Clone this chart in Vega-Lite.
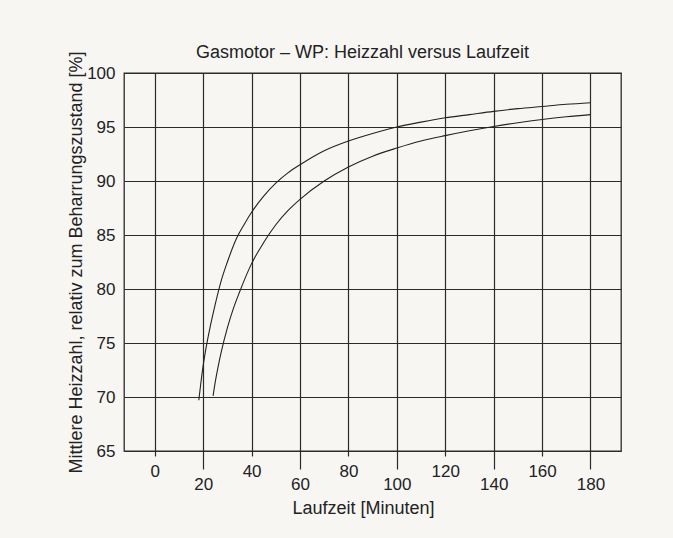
{
  "$schema": "https://vega.github.io/schema/vega-lite/v6.json",
  "autosize": "none",
  "width": 497,
  "height": 378,
  "padding": {"left": 124, "top": 73, "right": 52, "bottom": 87},
  "background": "#f7f6f3",
  "title": {
    "text": "Gasmotor – WP: Heizzahl versus Laufzeit",
    "fontSize": 18,
    "font": "Liberation Sans",
    "fontWeight": "normal",
    "color": "#222222",
    "frame": "group",
    "anchor": "middle",
    "dx": -10,
    "dy": 22,
    "offset": 11
  },
  "config": {
    "view": {"stroke": "#2b2b2b", "strokeWidth": 1.3},
    "font": "Liberation Sans"
  },
  "data": {
    "values": [
      {"kurve": "A", "minuten": 18.2, "heizzahl": 69.7},
      {"kurve": "A", "minuten": 19, "heizzahl": 71.2},
      {"kurve": "A", "minuten": 20, "heizzahl": 72.9},
      {"kurve": "A", "minuten": 21.4, "heizzahl": 74.8},
      {"kurve": "A", "minuten": 23, "heizzahl": 76.6},
      {"kurve": "A", "minuten": 25, "heizzahl": 78.6},
      {"kurve": "A", "minuten": 27.5, "heizzahl": 80.8},
      {"kurve": "A", "minuten": 30, "heizzahl": 82.5},
      {"kurve": "A", "minuten": 33.8, "heizzahl": 84.7},
      {"kurve": "A", "minuten": 37, "heizzahl": 86.0},
      {"kurve": "A", "minuten": 40, "heizzahl": 87.1},
      {"kurve": "A", "minuten": 45, "heizzahl": 88.6},
      {"kurve": "A", "minuten": 50, "heizzahl": 89.8},
      {"kurve": "A", "minuten": 55, "heizzahl": 90.75},
      {"kurve": "A", "minuten": 60, "heizzahl": 91.5},
      {"kurve": "A", "minuten": 70, "heizzahl": 92.8},
      {"kurve": "A", "minuten": 80, "heizzahl": 93.7},
      {"kurve": "A", "minuten": 90, "heizzahl": 94.4},
      {"kurve": "A", "minuten": 100, "heizzahl": 95.0},
      {"kurve": "A", "minuten": 110, "heizzahl": 95.45},
      {"kurve": "A", "minuten": 120, "heizzahl": 95.85},
      {"kurve": "A", "minuten": 130, "heizzahl": 96.15},
      {"kurve": "A", "minuten": 140, "heizzahl": 96.45},
      {"kurve": "A", "minuten": 150, "heizzahl": 96.7},
      {"kurve": "A", "minuten": 160, "heizzahl": 96.9},
      {"kurve": "A", "minuten": 170, "heizzahl": 97.1},
      {"kurve": "A", "minuten": 180, "heizzahl": 97.25},
      {"kurve": "B", "minuten": 24.1, "heizzahl": 70.1},
      {"kurve": "B", "minuten": 25, "heizzahl": 71.4},
      {"kurve": "B", "minuten": 26, "heizzahl": 72.6},
      {"kurve": "B", "minuten": 27.5, "heizzahl": 74.2},
      {"kurve": "B", "minuten": 30, "heizzahl": 76.4},
      {"kurve": "B", "minuten": 32.5, "heizzahl": 78.2},
      {"kurve": "B", "minuten": 35, "heizzahl": 79.7},
      {"kurve": "B", "minuten": 40, "heizzahl": 82.35},
      {"kurve": "B", "minuten": 45, "heizzahl": 84.3},
      {"kurve": "B", "minuten": 50, "heizzahl": 85.95},
      {"kurve": "B", "minuten": 55, "heizzahl": 87.25},
      {"kurve": "B", "minuten": 60, "heizzahl": 88.3},
      {"kurve": "B", "minuten": 70, "heizzahl": 90.0},
      {"kurve": "B", "minuten": 80, "heizzahl": 91.3},
      {"kurve": "B", "minuten": 90, "heizzahl": 92.3},
      {"kurve": "B", "minuten": 100, "heizzahl": 93.05},
      {"kurve": "B", "minuten": 110, "heizzahl": 93.7},
      {"kurve": "B", "minuten": 120, "heizzahl": 94.2},
      {"kurve": "B", "minuten": 130, "heizzahl": 94.65},
      {"kurve": "B", "minuten": 140, "heizzahl": 95.05},
      {"kurve": "B", "minuten": 150, "heizzahl": 95.4},
      {"kurve": "B", "minuten": 160, "heizzahl": 95.7},
      {"kurve": "B", "minuten": 170, "heizzahl": 95.95},
      {"kurve": "B", "minuten": 180, "heizzahl": 96.15}
    ]
  },
  "mark": {"type": "line", "interpolate": "monotone", "color": "#222222", "strokeWidth": 1.1},
  "encoding": {
    "x": {
      "field": "minuten",
      "type": "quantitative",
      "scale": {"domain": [-12.7, 192.6], "nice": false, "zero": false},
      "axis": {
        "title": "Laufzeit [Minuten]",
        "values": [0, 20, 40, 60, 80, 100, 120, 140, 160, 180],
        "domain": false,
        "grid": true,
        "gridColor": "#2b2b2b",
        "gridWidth": 1.2,
        "gridOpacity": 1,
        "ticks": true,
        "tickColor": "#2b2b2b",
        "tickWidth": 1.2,
        "tickSize": {"condition": {"test": "datum.value % 40 == 20", "value": 18}, "value": 5},
        "labelPadding": 7,
        "labelFontSize": 17,
        "labelColor": "#222222",
        "labelFlush": false,
        "labelOverlap": false,
        "titleFontSize": 18,
        "titleFontWeight": "normal",
        "titleColor": "#222222",
        "titlePadding": 7,
        "titleX": 239
      }
    },
    "y": {
      "field": "heizzahl",
      "type": "quantitative",
      "scale": {"domain": [65, 100], "nice": false, "zero": false},
      "axis": {
        "title": "Mittlere Heizzahl, relativ zum Beharrungszustand [%]",
        "values": [65, 70, 75, 80, 85, 90, 95, 100],
        "domain": false,
        "ticks": false,
        "grid": true,
        "gridColor": "#2b2b2b",
        "gridWidth": 1.2,
        "gridOpacity": 1,
        "labelPadding": 9,
        "labelFontSize": 17,
        "labelColor": "#222222",
        "labelFlush": false,
        "labelOverlap": false,
        "titleFontSize": 18,
        "titleFontWeight": "normal",
        "titleColor": "#222222",
        "titlePadding": 1
      }
    },
    "detail": {"field": "kurve", "type": "nominal"}
  }
}
